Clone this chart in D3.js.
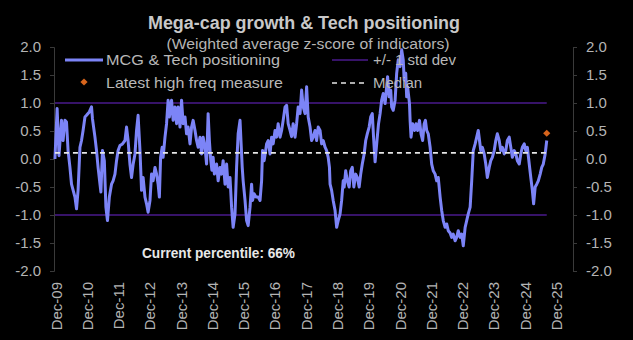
<!DOCTYPE html>
<html>
<head>
<meta charset="utf-8">
<script src="https://cdn.jsdelivr.net/npm/d3@7"></script>
<style>
  html, body { margin: 0; padding: 0; background: #000; }
  svg { display: block; }
  text { font-family: "Liberation Sans", Arial, sans-serif; }
</style>
</head>
<body>
<div id="chart"></div>
<script>
// ---- data ----
const seriesYears = [
2009.89,2009.96,2010.02,2010.10,2010.15,2010.21,2010.26,2010.31,2010.37,2010.42,2010.53,2010.58,2010.63,2010.69,2010.74,2010.79,2010.85,2010.90,2010.99,
2011.06,2011.09,2011.17,2011.22,2011.27,2011.33,2011.36,2011.41,2011.47,2011.52,2011.57,2011.63,2011.70,2011.75,2011.81,2011.86,2011.91,2011.97,
2012.05,2012.13,2012.18,2012.23,2012.29,2012.34,2012.39,2012.45,2012.50,2012.55,2012.61,2012.66,2012.71,2012.77,2012.82,2012.87,2012.93,2012.98,
2013.03,2013.09,2013.14,2013.19,2013.23,2013.27,2013.32,2013.35,2013.41,2013.46,2013.51,2013.55,2013.59,2013.62,2013.67,2013.73,2013.78,2013.83,2013.89,2013.94,2013.99,
2014.05,2014.10,2014.15,2014.21,2014.26,2014.31,2014.37,2014.42,2014.47,2014.53,2014.58,2014.63,2014.69,2014.74,2014.79,2014.83,2014.87,2014.91,2014.95,2014.99,
2015.06,2015.11,2015.17,2015.22,2015.27,2015.33,2015.38,2015.43,2015.49,2015.54,2015.59,2015.65,2015.70,2015.75,2015.81,2015.84,2015.88,2015.91,2015.97,
2016.02,2016.07,2016.13,2016.18,2016.21,2016.26,2016.32,2016.39,2016.45,2016.50,2016.53,2016.58,2016.63,2016.66,2016.71,2016.77,2016.82,2016.87,2016.93,2016.98,
2017.03,2017.09,2017.14,2017.19,2017.25,2017.30,2017.35,2017.41,2017.46,2017.51,2017.57,2017.62,2017.67,2017.73,2017.78,2017.83,2017.89,2017.94,2017.99,
2018.05,2018.10,2018.15,2018.21,2018.26,2018.31,2018.37,2018.42,2018.47,2018.53,2018.58,2018.63,2018.67,2018.69,2018.74,2018.79,2018.85,2018.90,2018.95,
2019.01,2019.06,2019.11,2019.14,2019.19,2019.24,2019.30,2019.35,2019.40,2019.45,2019.51,2019.56,2019.62,2019.67,2019.72,2019.78,2019.83,2019.88,2019.94,2019.99,
2020.04,2020.08,2020.13,2020.19,2020.24,2020.29,2020.34,2020.39,2020.45,2020.50,2020.53,2020.58,2020.63,2020.66,2020.71,2020.77,2020.82,2020.87,2020.93,2020.98,
2021.03,2021.06,2021.11,2021.14,2021.17,2021.23,2021.25,2021.28,2021.33,2021.39,2021.44,2021.49,2021.55,2021.60,2021.65,2021.70,2021.74,2021.78,2021.83,2021.89,2021.94,2021.99,
2022.05,2022.10,2022.15,2022.21,2022.26,2022.31,2022.37,2022.42,2022.47,2022.53,2022.58,2022.63,2022.69,2022.74,2022.79,2022.85,2022.90,2022.95,
2023.01,2023.06,2023.11,2023.17,2023.22,2023.27,2023.33,2023.38,2023.43,2023.47,2023.51,2023.56,2023.62,2023.67,2023.72,2023.78,2023.83,2023.88,2023.94,2023.99,
2024.04,2024.10,2024.15,2024.20,2024.26,2024.31,2024.36,2024.42,2024.47,2024.52,2024.58,2024.63,2024.68,2024.74,2024.79,2024.84,2024.90,2024.95,
2025.00,2025.06,2025.11,2025.16,2025.20,2025.25,2025.30,2025.35,2025.41,2025.46,2025.51,2025.57,2025.62
];
const seriesValues = [
0.00,0.90,0.06,0.69,0.33,0.69,0.66,0.15,-0.15,-0.45,-0.68,-0.89,-0.56,0.21,0.33,0.51,0.75,0.78,0.84,
0.93,0.72,0.39,0.15,-0.15,-0.45,-0.59,0.15,-0.03,-0.86,-1.10,-0.68,-0.45,-0.39,-0.27,-0.03,0.15,0.24,
0.27,0.33,0.57,0.33,-0.10,-0.33,-0.10,0.09,0.51,0.78,0.15,-0.56,-0.33,-0.68,-0.80,-0.95,-0.74,-0.27,
-0.39,-0.15,-0.27,-0.45,-0.68,0.03,0.21,0.03,0.39,0.63,1.05,0.75,0.93,1.05,0.69,0.93,0.63,0.93,0.57,1.05,0.63,
0.75,0.45,0.57,0.27,0.57,0.69,0.51,0.33,0.21,0.39,0.09,0.39,0.21,-0.09,0.81,0.33,0.00,-0.20,0.03,-0.27,
-0.09,-0.39,-0.15,-0.27,-0.03,-0.45,-0.09,-0.50,-0.33,-0.86,-1.22,-0.98,-0.15,0.45,0.69,0.33,-0.15,-0.39,-0.74,
-1.10,-1.19,-0.86,-0.45,-0.74,-0.62,-0.68,-0.68,-0.74,-0.39,0.15,-0.03,0.15,0.27,0.33,0.09,0.39,0.27,0.51,0.39,
0.63,0.39,0.51,0.69,0.93,0.96,0.63,0.51,0.40,0.63,0.39,0.63,0.93,0.81,1.23,0.93,0.81,1.29,0.75,
0.57,0.33,0.39,0.51,0.33,0.57,0.51,0.27,0.33,0.21,0.15,0.03,-0.15,-0.45,-0.56,-0.74,-0.92,-1.22,-1.10,
-0.98,-0.74,-0.39,-0.50,-0.21,-0.39,-0.50,-0.21,-0.15,-0.50,-0.27,-0.33,-0.50,-0.27,-0.09,0.09,0.33,0.45,0.57,0.75,
0.81,0.40,-0.05,0.33,0.63,0.81,1.05,1.17,0.99,1.29,1.47,1.11,1.23,0.93,0.87,1.05,1.53,1.77,1.65,1.95,
1.77,1.41,1.53,1.11,1.29,0.99,0.69,0.39,0.63,0.51,0.63,0.51,0.69,0.45,0.33,0.63,0.69,0.51,0.45,0.21,-0.09,-0.21,
-0.27,-0.39,-0.33,-0.68,-0.92,-1.10,-1.22,-1.16,-1.28,-1.32,-1.40,-1.34,-1.46,-1.40,-1.28,-1.40,-1.34,-1.55,
-1.22,-1.10,-0.98,-0.86,-0.39,0.15,0.27,0.39,0.51,0.33,0.15,0.21,0.09,-0.09,-0.33,-0.15,-0.03,0.03,0.15,0.33,
0.45,0.33,0.15,0.21,0.09,0.15,0.33,0.39,0.21,0.03,0.15,0.09,-0.03,-0.09,0.09,0.21,0.27,0.15,
0.21,-0.09,-0.33,-0.56,-0.80,-0.50,-0.45,-0.39,-0.27,-0.15,-0.09,0.09,0.33
];
const latestYear = 2025.62;
const latestValue = 0.46;
const medianValue = 0.11;
const stdBands = [1, -1];
const yTicks = [2.0, 1.5, 1.0, 0.5, 0.0, -0.5, -1.0, -1.5, -2.0];
const xTickYears = [2009.92,2010.92,2011.92,2012.92,2013.92,2014.92,2015.92,2016.92,2017.92,2018.92,2019.92,2020.92,2021.92,2022.92,2023.92,2024.92,2025.92];
const xTickLabels = ["Dec-09","Dec-10","Dec-11","Dec-12","Dec-13","Dec-14","Dec-15","Dec-16","Dec-17","Dec-18","Dec-19","Dec-20","Dec-21","Dec-22","Dec-23","Dec-24","Dec-25"];
const currentPercentile = "Current percentile: 66%";

// ---- layout ----
const W = 633, H = 340;
const plotL = 54, plotR = 573, plotT = 47, plotB = 271;
const lineColor = "#7c84f7", bandColor = "#4a1a8c", dotColor = "#d8651c";
const axisText = "#b4b4b4", axisLine = "#3a3a3a";

const svg = d3.select("#chart").append("svg").attr("width", W).attr("height", H)
  .style("background", "#000");

const x = d3.scaleLinear().domain([2009.86, 2026.46]).range([plotL, plotR]);
const y = d3.scaleLinear().domain([-2, 2]).range([plotB, plotT]);

// axes
const fmt = d => d.toFixed(1);
const yLeft = d3.axisLeft(y).tickValues(yTicks).tickFormat(fmt).tickSize(4).tickPadding(9);
const yRight = d3.axisRight(y).tickValues(yTicks).tickFormat(fmt).tickSize(4).tickPadding(9);
const gl = svg.append("g").attr("transform", `translate(${plotL},0)`).call(yLeft);
const gr = svg.append("g").attr("transform", `translate(${plotR},0)`).call(yRight);
[gl, gr].forEach(g => {
  g.select(".domain").attr("stroke", axisLine);
  g.selectAll(".tick line").attr("stroke", axisLine);
  g.selectAll(".tick text").attr("fill", axisText).style("font-size", "15px")
    .style("font-family", "'Liberation Sans', Arial, sans-serif");
});

// x tick labels (rotated)
const xAxis = d3.axisBottom(x).tickValues(xTickYears).tickFormat((d, i) => xTickLabels[i]).tickSize(0);
const gx = svg.append("g").attr("transform", `translate(0,${plotB})`).call(xAxis);
gx.select(".domain").remove();
gx.selectAll(".tick text")
  .attr("fill", axisText).style("font-size", "15px")
  .style("font-family", "'Liberation Sans', Arial, sans-serif")
  .attr("transform", "rotate(-90)")
  .attr("x", -11).attr("y", 0).attr("dy", "0.35em")
  .attr("text-anchor", "end");

const x0 = x(seriesYears[0]), x1 = x(seriesYears[seriesYears.length - 1]);

// +/- 1 std dev lines
svg.selectAll("line.band").data(stdBands).enter().append("line")
  .attr("class", "band")
  .attr("x1", plotL + 1).attr("x2", x1)
  .attr("y1", d => y(d)).attr("y2", d => y(d))
  .attr("stroke", bandColor).attr("stroke-width", 1.5);

// series line
const data = seriesYears.map((t, i) => [t, seriesValues[i]]);
svg.append("path").datum(data)
  .attr("fill", "none").attr("stroke", lineColor).attr("stroke-width", 3)
  .attr("stroke-linejoin", "round")
  .attr("d", d3.line().x(d => x(d[0])).y(d => y(d[1])));

// median line
svg.append("line")
  .attr("x1", x0).attr("x2", x1)
  .attr("y1", y(medianValue)).attr("y2", y(medianValue))
  .attr("stroke", "#e6e6e6").attr("stroke-width", 1.6).attr("stroke-dasharray", "5,4");

// latest point
const marker = d3.symbol().type(d3.symbolSquare).size(26)();
svg.append("path")
  .attr("d", marker)
  .attr("transform", `translate(${x(latestYear)},${y(latestValue)}) rotate(45)`)
  .attr("fill", dotColor);

// title
svg.append("text").attr("x", 304).attr("y", 29).attr("text-anchor", "middle")
  .attr("fill", "#c8c8c8").style("font-size", "18px").style("font-weight", "bold")
  .attr("textLength", 312).attr("lengthAdjust", "spacingAndGlyphs")
  .text("Mega-cap growth & Tech positioning");
svg.append("text").attr("x", 308).attr("y", 49).attr("text-anchor", "middle")
  .attr("fill", "#b4b4b4").style("font-size", "14px")
  .attr("textLength", 283).attr("lengthAdjust", "spacingAndGlyphs")
  .text("(Weighted average z-score of indicators)");

// legend
const lg = svg.append("g");
lg.append("line").attr("x1", 65).attr("x2", 103).attr("y1", 60).attr("y2", 60)
  .attr("stroke", lineColor).attr("stroke-width", 3);
lg.append("text").attr("x", 106).attr("y", 65).attr("fill", "#b8b8b8").style("font-size", "15px")
  .attr("textLength", 174).attr("lengthAdjust", "spacingAndGlyphs")
  .text("MCG & Tech positioning");
lg.append("path").attr("d", marker)
  .attr("transform", "translate(84,82) rotate(45)").attr("fill", dotColor);
lg.append("text").attr("x", 106).attr("y", 88).attr("fill", "#b8b8b8").style("font-size", "15px")
  .attr("textLength", 177).attr("lengthAdjust", "spacingAndGlyphs")
  .text("Latest high freq measure");
lg.append("line").attr("x1", 332).attr("x2", 368).attr("y1", 60).attr("y2", 60)
  .attr("stroke", bandColor).attr("stroke-width", 1.5);
lg.append("text").attr("x", 373).attr("y", 65).attr("fill", "#b8b8b8").style("font-size", "15px")
  .text("+/- 1 std dev");
lg.append("line").attr("x1", 332).attr("x2", 368).attr("y1", 83).attr("y2", 83)
  .attr("stroke", "#e6e6e6").attr("stroke-width", 1.6).attr("stroke-dasharray", "5,4");
lg.append("text").attr("x", 373).attr("y", 88).attr("fill", "#b8b8b8").style("font-size", "15px")
  .text("Median");

// annotation
svg.append("text").attr("x", 142).attr("y", 258).attr("fill", "#e8e8e8")
  .style("font-size", "14px").style("font-weight", "600")
  .attr("textLength", 153).attr("lengthAdjust", "spacingAndGlyphs")
  .text(currentPercentile);
</script>
</body>
</html>
